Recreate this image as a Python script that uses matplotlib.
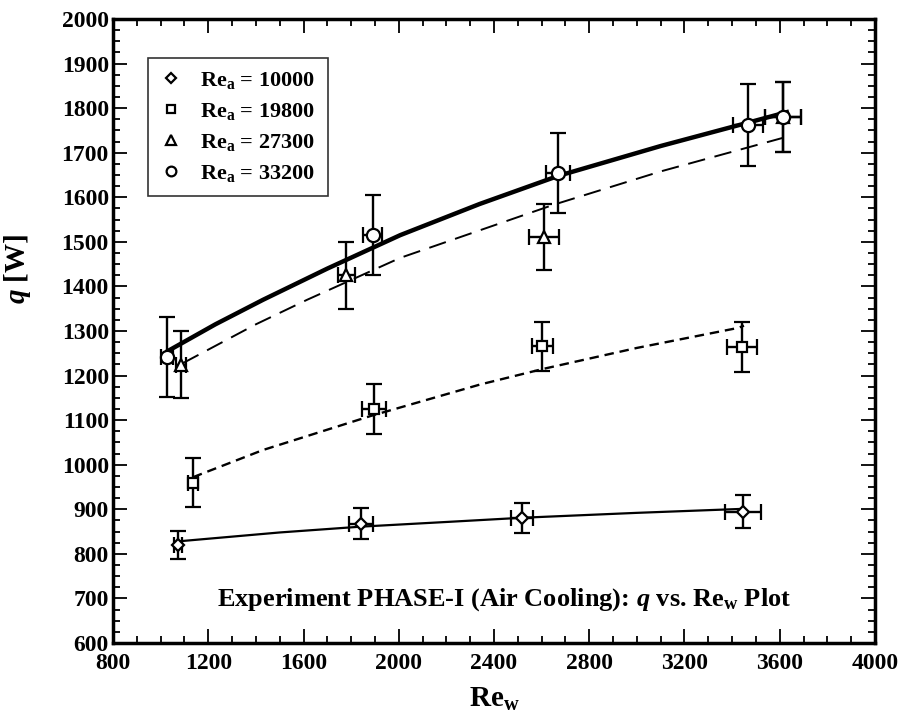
import matplotlib
matplotlib.use("Agg")
import matplotlib.pyplot as plt
from matplotlib.ticker import MultipleLocator

plt.rcParams['font.family'] = ['Liberation Serif', 'DejaVu Serif']
plt.rcParams['font.weight'] = 'bold'
plt.rcParams['axes.labelweight'] = 'bold'
plt.rcParams['mathtext.fontset'] = 'custom'
plt.rcParams['mathtext.rm'] = 'Liberation Serif:bold'
plt.rcParams['mathtext.bf'] = 'Liberation Serif:bold'
plt.rcParams['mathtext.it'] = 'Liberation Serif:bold:italic'

# ---- data ----
labels = [r'$\mathrm{Re}_{\mathrm{a}}$ = 10000', r'$\mathrm{Re}_{\mathrm{a}}$ = 19800',
          r'$\mathrm{Re}_{\mathrm{a}}$ = 27300', r'$\mathrm{Re}_{\mathrm{a}}$ = 33200']

dia_x = [1073, 1840, 2518, 3447]
dia_y = [820, 868, 880, 894]
dia_yerr = [32, 35, 33, 37]
dia_xerr = [15, 50, 45, 75]

sq_x = [1136, 1897, 2603, 3443]
sq_y = [960, 1125, 1266, 1264]
sq_yerr = [55, 55, 55, 56]
sq_xerr = [20, 50, 45, 63]

tri_x = [1086, 1780, 2611, 3615]
tri_y = [1224, 1425, 1511, 1780]
tri_yerr = [75, 75, 75, 78]
tri_xerr = [20, 35, 63, 75]

cir_x = [1027, 1890, 2670, 3468, 3615]
cir_y = [1242, 1515, 1654, 1762, 1780]
cir_yerr = [90, 90, 90, 92, 78]
cir_xerr = [25, 40, 50, 63, 75]

# fitted curves
fit_dia_x = [1073, 1500, 1840, 2216, 2518, 3000, 3447]
fit_dia_y = [828, 848, 861, 872, 881, 892, 901]

fit_sq_x = [1136, 1430, 1880, 2342, 2607, 3000, 3426, 3450]
fit_sq_y = [972, 1033, 1109, 1180, 1215, 1262, 1307, 1312]

fit_tri_x = [1094, 1400, 1615, 2006, 2649, 3100, 3611]
fit_tri_y = [1228, 1315, 1370, 1464, 1583, 1658, 1733]

fit_cir_x = [1030, 1230, 1430, 1700, 2006, 2340, 2670, 3100, 3464, 3630]
fit_cir_y = [1255, 1315, 1370, 1440, 1515, 1585, 1648, 1715, 1767, 1791]

fig = plt.figure(figsize=(9.02, 7.25), dpi=100)
ax = fig.add_axes([0.1253, 0.1131, 0.8447, 0.8607])

# fit curves
ax.plot(fit_dia_x, fit_dia_y, color='black', lw=1.6, zorder=2)
ax.plot(fit_sq_x, fit_sq_y, color='black', lw=1.7, ls=(0, (4, 2.5)), zorder=2)
ax.plot(fit_tri_x, fit_tri_y, color='black', lw=1.4, ls=(0, (9, 5)), zorder=2)
ax.plot(fit_cir_x, fit_cir_y, color='black', lw=3.2, zorder=2)

ekw = dict(ecolor='black', elinewidth=1.7, capsize=5.5, capthick=1.7, ls='none',
           mfc='white', mec='black', mew=1.6, zorder=4)
ax.errorbar(dia_x, dia_y, yerr=dia_yerr, xerr=dia_xerr, marker='D', ms=6, **ekw)
ax.errorbar(sq_x, sq_y, yerr=sq_yerr, xerr=sq_xerr, marker='s', ms=7, **ekw)
ax.errorbar(tri_x, tri_y, yerr=tri_yerr, xerr=tri_xerr, marker='^', ms=8, **ekw)
ax.errorbar(cir_x, cir_y, yerr=cir_yerr, xerr=cir_xerr, marker='o', ms=9.5,
            **{**ekw, 'zorder': 5})

# legend handles
hs = []
for m, s in zip(['D', 's', '^', 'o'], [5.5, 6, 7, 7]):
    h, = ax.plot([], [], ls='none', marker=m, ms=s, mfc='white', mec='black', mew=1.6)
    hs.append(h)
leg = ax.legend(hs, labels, loc='upper left', bbox_to_anchor=(0.046, 0.9375),
                frameon=True, fancybox=False, edgecolor='black', fontsize=16,
                handlelength=1.0, handletextpad=0.8, borderpad=0.55, labelspacing=0.45,
                borderaxespad=0.0)
leg.get_frame().set_linewidth(1.2)

ax.text(2443, 697, r'Experiment PHASE-I (Air Cooling): $q$ vs. $\mathrm{Re}_{\mathrm{w}}$ Plot',
        ha='center', va='center', fontsize=19, fontweight='bold')

ax.set_xlim(800, 4000)
ax.set_ylim(600, 2000)
ax.xaxis.set_major_locator(MultipleLocator(400))
ax.xaxis.set_minor_locator(MultipleLocator(100))
ax.yaxis.set_major_locator(MultipleLocator(100))
ax.yaxis.set_minor_locator(MultipleLocator(25))
ax.tick_params(which='both', direction='in', top=True, right=True, width=1.3)
ax.tick_params(which='major', length=10, labelsize=17)
ax.tick_params(axis='x', which='major', pad=7)
ax.tick_params(axis='y', which='major', pad=3)
ax.tick_params(which='minor', length=5)
for lab in ax.get_xticklabels() + ax.get_yticklabels():
    lab.set_fontweight('bold')
for sp in ax.spines.values():
    sp.set_linewidth(2.5)

ax.set_xlabel(r'$\mathrm{Re}_{\mathrm{w}}$', fontsize=21, labelpad=9, fontweight='bold')
ax.set_ylabel(r'$q$ [W]', fontsize=21, fontweight='bold')
ax.yaxis.set_label_coords(-0.105, 0.60)

fig.savefig('out.png', dpi=100)
